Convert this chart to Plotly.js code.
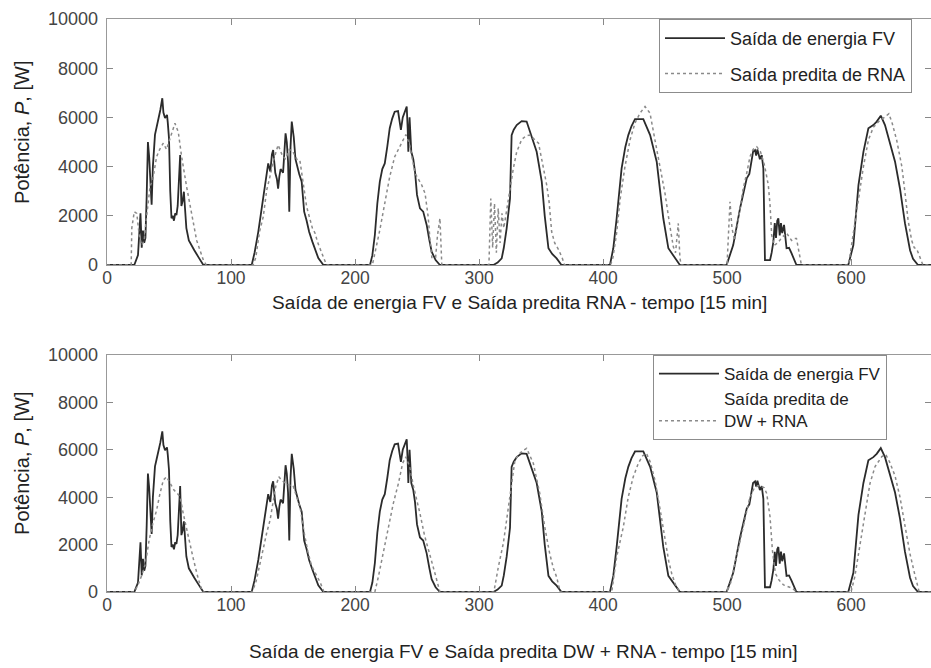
<!DOCTYPE html>
<html>
<head>
<meta charset="utf-8">
<script src="https://cdn.plot.ly/plotly-3.0.1.min.js"></script>
<style>html,body{margin:0;padding:0;background:#fff;}#chart{width:931px;height:668px;}</style>
</head>
<body>
<div id="chart"></div>
<script>
// ---- data (time index in 15-min steps, power in W) ----
const xTicks = [0, 100, 200, 300, 400, 500, 600];
const yTicks = [0, 2000, 4000, 6000, 8000, 10000];
const yTickText = ['0', '2000', '4000', '6000', '8000', '10000'];

const seriesNames = ['Saída de energia FV', 'Saída predita de RNA', 'Saída predita de<br>DW + RNA'];
const xTitles = ['Saída de energia FV e Saída predita RNA - tempo [15 min]',
                 'Saída de energia FV e Saída predita DW + RNA - tempo [15 min]'];
const yTitle = 'Potência, <i>P</i>, [W]';

// measured PV output
const fvTime = [0, 22, 25, 26, 27, 28, 29, 30, 31, 32, 33, 34, 35, 36, 37, 38.7, 40, 42, 43, 44.6, 45.5, 46.8, 48.4, 49, 50, 51, 52, 53, 54, 55, 56, 57, 58, 59, 60, 61, 62, 63, 64, 66, 68, 70.4, 74, 77.7,
  116.7, 119, 122, 125, 126.9, 130, 131.7, 133, 134, 135, 135.7, 137, 138, 139, 140, 142, 143, 144, 145, 146, 147, 148, 149, 150.6, 152, 153, 155, 157, 159, 161, 163, 165.6, 168, 170.4, 174.5,
  212.1, 214, 216, 218, 220, 222, 224, 226, 228, 230, 232, 234.7, 236, 237, 238.5, 240, 241.7, 242.5, 243, 244, 245.4, 247, 248.4, 250, 252.4, 255, 257.8, 260, 261.8, 265, 268.5,
  311.6, 315, 318.3, 320, 322.3, 325, 326.3, 328, 330.4, 334.4, 338.4, 341, 346.5, 350.6, 353, 356, 359, 362.6, 366.5,
  405.6, 408.3, 411, 415, 418, 420.4, 423, 425.8, 432.5, 435, 438, 443.3, 446, 448.6, 452.7, 458, 462,
  499.7, 505, 510.5, 515.9, 518, 519.9, 521, 522.6, 523.5, 524.5, 525.3, 526.5, 528, 529.3, 530.6, 534.7, 536, 537.4, 538.5, 539.5, 540.5, 541.4, 542.5, 543.5, 544.5, 546, 548, 550, 552, 556,
  597.8, 601.9, 606, 610, 614, 618, 620.7, 624, 627.4, 631.5, 635.5, 639.5, 643.5, 647.6, 650, 654, 665];
const fvPower = [0, 0, 400, 1200, 2100, 700, 1400, 900, 1100, 2800, 5000, 4400, 3200, 2450, 4000, 5300, 5600, 6030, 6300, 6780, 6200, 5980, 6100, 5800, 5150, 3000, 1900, 2000, 1800, 2100, 2030, 2400, 3500, 4470, 2400, 2600, 2980, 2000, 1500, 1000, 800, 600, 300, 0,
  0, 500, 1350, 2400, 3250, 4130, 3800, 4500, 4670, 4200, 3750, 3500, 3100, 3600, 3900, 3750, 4500, 5350, 5000, 4200, 2170, 4800, 5830, 5200, 4300, 4070, 3700, 3390, 2170, 1800, 1350, 950, 600, 280, 0,
  0, 400, 1220, 2500, 3390, 3900, 4130, 4800, 5560, 5950, 6230, 6260, 5900, 5490, 6000, 6230, 6440, 5500, 4600, 6000, 4600, 4300, 3790, 2850, 2300, 2170, 1630, 1000, 540, 200, 0,
  0, 100, 270, 700, 1490, 2710, 5280, 5500, 5690, 5850, 5830, 5420, 4600, 3390, 2000, 680, 450, 270, 0,
  0, 680, 1900, 3930, 4800, 5280, 5650, 5930, 5930, 5650, 5280, 4200, 3000, 1900, 680, 270, 0,
  0, 810, 2300, 3520, 3700, 4340, 4600, 4670, 4450, 4700, 4470, 4300, 4470, 3930, 200, 200, 500, 950, 1700, 1100, 1800, 1900, 1200, 1700, 1300, 1630, 680, 700, 480, 0,
  0, 810, 3250, 4600, 5560, 5690, 5830, 6070, 5690, 4950, 4200, 3100, 1700, 600, 250, 0, 0];

// ANN prediction
const rnaTime = [0, 19.5, 20, 22, 24, 26, 28, 30, 32, 34.7, 37, 40, 42.5, 45.4, 48, 51, 54.8, 57.5, 60.2, 64.2, 67, 70, 72.3, 75, 77.7, 80,
  117.8, 120, 123, 126, 128.8, 131, 134, 138, 141, 144, 147, 150, 153, 155.5, 158.3, 161, 165.6, 167.7, 170, 173, 177,
  214, 216, 220, 224, 228, 232, 235.8, 238, 241, 244, 246, 248.4, 251, 253.8, 256.5, 259, 260.5, 262, 265, 266.5, 268.5, 270,
  308, 309.5, 311, 312.5, 314, 315.5, 317, 318.5, 320, 322, 324, 326, 327.7, 330.4, 334.4, 338, 341, 344, 348, 352, 354.6, 356.5, 358.6, 361, 364, 367, 369,
  406, 408, 411, 413.7, 417.7, 421.8, 425.8, 429.8, 433.9, 437.9, 441.9, 446, 450, 454, 456.7, 458.5, 460.7, 462, 463,
  500, 501, 502.4, 504, 506, 508, 510.5, 513, 515.9, 518.5, 521, 524, 527, 530, 531.5, 533.3, 534.7, 536, 538, 541, 544, 548, 552, 554, 556, 558, 560,
  598, 602, 606, 610, 614, 618, 623.4, 627, 630.5, 633, 636.8, 641, 643.6, 646, 648.9, 651, 653, 656, 658, 665];
const rnaPower = [0, 0, 1500, 2170, 2100, 1200, 800, 1000, 2000, 3180, 3500, 4400, 4700, 4950, 4700, 5200, 5760, 5400, 4400, 3180, 2370, 1500, 1000, 600, 200, 0,
  0, 300, 1350, 1960, 3050, 3500, 4200, 4880, 4500, 4300, 4700, 4600, 4300, 4270, 3180, 2370, 1500, 1300, 900, 500, 0,
  0, 470, 1420, 2510, 3590, 4400, 4810, 5000, 5300, 4900, 4300, 3730, 3500, 3250, 2910, 1960, 1000, 300, 300, 1200, 1900, 0,
  0, 2700, 700, 2500, 500, 2300, 900, 2100, 1500, 2200, 2800, 3400, 3930, 4600, 5100, 5250, 5280, 5150, 4950, 3930, 3250, 2580, 1350, 900, 640, 300, 0,
  0, 300, 1300, 2640, 4000, 5080, 5770, 6170, 6440, 6170, 5080, 4000, 2910, 1560, 740, 500, 1690, 300, 0,
  0, 1200, 2570, 1500, 1000, 1500, 2370, 3100, 3730, 4400, 4700, 4810, 4600, 4100, 3730, 3250, 2440, 1220, 800, 900, 1100, 1300, 1000, 1080, 1080, 600, 0,
  0, 1290, 2640, 4000, 5080, 5600, 5890, 6000, 6150, 5800, 5080, 4000, 2910, 1830, 1000, 700, 650, 250, 0, 0];

// DW + ANN prediction
const dwTime = [0, 22, 25, 28, 31, 34, 37, 40, 42.5, 45.4, 48, 51, 54, 56, 58.9, 61.5, 64.2, 67, 69.6, 73.6, 77,
  117, 120, 123, 126, 128.8, 131.5, 136, 138.6, 141, 144, 147, 150, 153, 156, 159, 162, 165, 168, 171.8, 175,
  216, 218.8, 222.8, 226.9, 230.9, 235, 238.4, 241, 244, 247, 250, 252.4, 256, 260.5, 264.5, 268.5,
  312, 315.6, 319.6, 321.5, 324, 327, 329, 332, 335, 338.4, 343.8, 349, 353, 357, 360, 362.6, 365.5,
  407, 411, 416.4, 420.4, 424.4, 428.5, 432, 435, 438, 442, 446, 450, 453, 455.4, 458.5, 462,
  500, 503, 506, 510, 514, 518, 522, 526, 530, 532, 534.7, 536.6, 539, 542, 545.6, 550, 553, 556,
  600, 603, 607, 611.3, 615.3, 619.4, 624.8, 628, 631, 635.5, 639.5, 643.5, 647.6, 651.6, 655, 665];
const dwPower = [0, 0, 300, 700, 1200, 2200, 2900, 3450, 4100, 4720, 4860, 4600, 4300, 4200, 4020, 3310, 2650, 1900, 1400, 550, 0,
  0, 400, 1100, 1900, 2500, 3030, 4440, 4860, 4700, 4600, 4500, 4500, 4000, 3500, 2500, 1700, 1100, 800, 420, 0,
  0, 630, 1620, 2610, 3740, 4580, 5430, 5700, 5300, 4500, 3900, 3310, 2400, 1480, 780, 0,
  0, 1060, 2050, 2750, 3700, 4800, 5570, 5800, 5950, 6060, 5430, 4160, 2750, 1620, 1000, 630, 0,
  0, 1480, 2750, 4020, 4860, 5430, 5750, 5850, 5500, 4700, 3500, 2200, 1300, 780, 300, 0,
  0, 400, 1100, 2100, 3100, 3900, 4400, 4500, 4400, 4160, 3170, 1760, 780, 500, 300, 200, 150, 0,
  0, 630, 1900, 3310, 4580, 5290, 5710, 5800, 5500, 4900, 4000, 2800, 1600, 700, 0, 0];

// ---- styles ----
const FONT = 'Liberation Sans, Arial, sans-serif';
const solidLine = {color: '#2b2b2b', width: 1.8};
const dotLine = {color: '#8a8a8a', width: 1.5, dash: 'dot'};

const traces = [
  {x: fvTime, y: fvPower, xaxis: 'x', yaxis: 'y', type: 'scatter', mode: 'lines', line: solidLine,
   name: seriesNames[0], legend: 'legend', legendgroup: 'a'},
  {x: rnaTime, y: rnaPower, xaxis: 'x', yaxis: 'y', type: 'scatter', mode: 'lines', line: dotLine,
   name: seriesNames[1], legend: 'legend', legendgroup: 'b'},
  {x: fvTime, y: fvPower, xaxis: 'x2', yaxis: 'y2', type: 'scatter', mode: 'lines', line: solidLine,
   name: seriesNames[0], legend: 'legend2', legendgroup: 'c'},
  {x: dwTime, y: dwPower, xaxis: 'x2', yaxis: 'y2', type: 'scatter', mode: 'lines', line: dotLine,
   name: seriesNames[2], legend: 'legend2', legendgroup: 'd'}
];

function xAxis(anchor) {
  return {anchor: anchor, domain: [0, 1], range: [0, 664.5], tickmode: 'array', tickvals: xTicks,
    ticks: 'inside', ticklen: 6, tickwidth: 1, tickcolor: '#888', showline: true, linecolor: '#999',
    linewidth: 1.3, mirror: 'ticks', showgrid: false, zeroline: false, ticklabelstandoff: -3,
    tickfont: {family: FONT, size: 17.5, color: '#444'}};
}
function yAxis(anchor, dom) {
  return {anchor: anchor, domain: dom, range: [0, 10000], tickmode: 'array', tickvals: yTicks,
    ticktext: yTickText,
    ticks: 'inside', ticklen: 6, tickwidth: 1, tickcolor: '#888', showline: true, linecolor: '#999',
    linewidth: 1.3, mirror: 'ticks', showgrid: false, zeroline: false, ticklabelstandoff: 4,
    tickfont: {family: FONT, size: 18, color: '#444'}};
}
const legendBase = {xanchor: 'left', yanchor: 'top', bgcolor: '#ffffff', bordercolor: '#8c8c8c', borderwidth: 1,
  itemwidth: 60, traceorder: 'grouped', valign: 'bottom'};

const layout = {
  width: 931, height: 668,
  margin: {l: 107, r: 0, t: 0, b: 0},
  paper_bgcolor: '#fff', plot_bgcolor: '#fff',
  showlegend: true,
  xaxis: xAxis('y'),
  yaxis: yAxis('x', [0.60329, 0.97156]),
  xaxis2: xAxis('y2'),
  yaxis2: yAxis('x2', [0.11377, 0.46856]),
  legend: Object.assign({}, legendBase, {x: 0.6699, y: 0.97156, tracegroupgap: 9,
    font: {family: FONT, size: 18, color: '#222'}}),
  legend2: Object.assign({}, legendBase, {x: 0.6626, y: 0.46856, tracegroupgap: 0,
    font: {family: FONT, size: 17, color: '#222'}}),
  annotations: [
    {text: xTitles[0], xref: 'paper', yref: 'paper', x: 0.5, y: 0.5479, xanchor: 'center', yanchor: 'middle',
     showarrow: false, font: {family: FONT, size: 19, color: '#222'}},
    {text: xTitles[1], xref: 'paper', yref: 'paper', x: 0.506, y: 0.024, xanchor: 'center', yanchor: 'middle',
     showarrow: false, font: {family: FONT, size: 19, color: '#222'}},
    {text: yTitle, xref: 'paper', yref: 'paper', x: -0.1032, y: 0.8024, xanchor: 'center', yanchor: 'middle',
     textangle: -90, showarrow: false, font: {family: FONT, size: 20, color: '#222'}},
    {text: yTitle, xref: 'paper', yref: 'paper', x: -0.1032, y: 0.3069, xanchor: 'center', yanchor: 'middle',
     textangle: -90, showarrow: false, font: {family: FONT, size: 20, color: '#222'}}
  ]
};

Plotly.newPlot('chart', traces, layout, {displayModeBar: false, staticPlot: true});
</script>
</body>
</html>
